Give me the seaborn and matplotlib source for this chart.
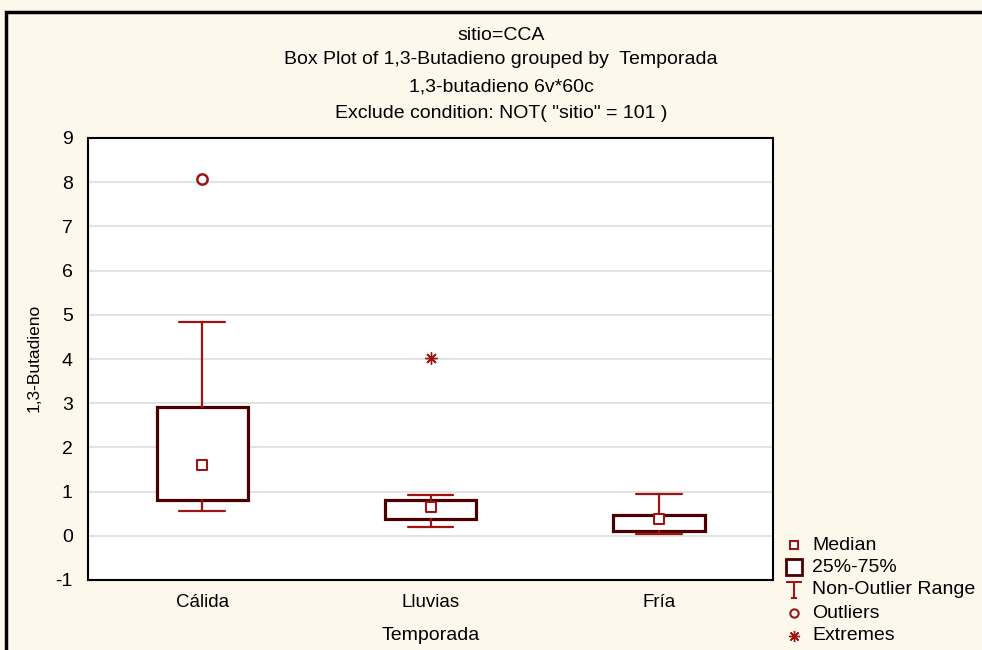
import matplotlib
matplotlib.use("Agg")
import matplotlib.pyplot as plt
import seaborn as sns
from matplotlib.lines import Line2D
from matplotlib.path import Path
from matplotlib.patches import Rectangle

# ---- data ----
categories = ["Cálida", "Lluvias", "Fría"]
medians = [1.61, 0.65, 0.39]
q1 = [0.81, 0.38, 0.11]
q3 = [2.92, 0.81, 0.48]
whisker_low = [0.57, 0.21, 0.03]
whisker_high = [4.84, 0.93, 0.95]
outlier_cat = ["Cálida"]
outlier_val = [8.07]
extreme_cat = ["Lluvias"]
extreme_val = [4.02]
yticks = [-1, 0, 1, 2, 3, 4, 5, 6, 7, 8, 9]
title_lines = ["sitio=CCA",
               "Box Plot of 1,3-Butadieno grouped by  Temporada",
               "1,3-butadieno 6v*60c",
               'Exclude condition: NOT( "sitio" = 101 )']
legend_labels = ["Median", "25%-75%", "Non-Outlier Range", "Outliers", "Extremes"]

BG = "#FDF8EC"
BOX = "#4A0000"
RED = "#9E1414"

sns.set_theme(style="white")
plt.rcParams['font.family'] = ['Liberation Sans', 'DejaVu Sans']
plt.rcParams['axes.unicode_minus'] = False
plt.rcParams['text.color'] = 'black'

fig = plt.figure(figsize=(9.82, 6.5), dpi=100, facecolor=BG)
ax = fig.add_axes([88 / 982, 70 / 650, 685 / 982, 442 / 650])
ax.set_facecolor("white")

stats = []
for i, c in enumerate(categories):
    stats.append(dict(label=c, med=medians[i], q1=q1[i], q3=q3[i],
                      whislo=whisker_low[i], whishi=whisker_high[i], fliers=[]))

ax.bxp(stats, positions=range(len(categories)), widths=0.4, capwidths=0.2,
       patch_artist=True, showfliers=False,
       boxprops=dict(facecolor="white", edgecolor=BOX, linewidth=2.3),
       whiskerprops=dict(color=RED, linewidth=1.6),
       capprops=dict(color=RED, linewidth=1.6),
       medianprops=dict(linewidth=0), zorder=3)

sns.scatterplot(x=categories, y=medians, marker="s", s=45, facecolor="white",
                edgecolor=RED, linewidth=1.5, ax=ax, zorder=4, legend=False)
sns.scatterplot(x=outlier_cat, y=outlier_val, marker="o", s=55, facecolor="white",
                edgecolor=RED, linewidth=1.8, ax=ax, zorder=4, legend=False)
sns.scatterplot(x=extreme_cat, y=extreme_val, marker=(8, 2, 0), s=70,
                color=RED, linewidth=1.0, ax=ax, zorder=4, legend=False)

ax.set_xlim(-0.5, 2.5)
ax.set_ylim(-1, 9)
ax.set_yticks(yticks)
ax.set_xticks(range(len(categories)))
ax.set_xticklabels(categories)
ax.yaxis.grid(True, color="#DEDEDE", linewidth=1.2)
ax.set_axisbelow(True)
ax.tick_params(axis="both", direction="in", length=4, width=1, color="black",
               labelsize=13.5, labelcolor="black")
ax.tick_params(axis="y", pad=11, labelsize=14)
ax.tick_params(axis="x", pad=10)
ax.tick_params(top=False, right=False)
for s in ax.spines.values():
    s.set_color("black")
    s.set_linewidth(1.5)
ax.set_xlabel("")
ax.set_ylabel("")

# titles
for txt, yp in zip(title_lines, [36, 60, 87, 114]):
    fig.text(501 / 982, 1 - yp / 650, txt, ha="center", va="center",
             fontsize=14, color="black")

fig.text(34 / 982, 1 - 358 / 650, "1,3-Butadieno", rotation=90, ha="center",
         va="center", fontsize=12.5, color="black")
fig.text(431 / 982, 1 - 635 / 650, "Temporada", ha="center", va="center",
         fontsize=14, color="black")

# figure frame
fig.patches.append(Rectangle((6 / 982, -0.05), 1.1, 1 - 12 / 650 + 0.05,
                             transform=fig.transFigure, fill=False,
                             edgecolor="black", linewidth=2.5, zorder=0))

# legend (drawn entry by entry at figure positions)
range_marker = Path([(-0.45, 0.5), (0.45, 0.5), (0, 0.5), (0, -0.5),
                     (-0.2, -0.5), (0.2, -0.5)],
                    [Path.MOVETO, Path.LINETO, Path.MOVETO, Path.LINETO,
                     Path.MOVETO, Path.LINETO])
marker_styles = [
    dict(marker="s", markersize=6, markerfacecolor="white",
         markeredgecolor=RED, markeredgewidth=1.5),
    dict(marker="s", markersize=11, markerfacecolor="white",
         markeredgecolor=BOX, markeredgewidth=2),
    dict(marker=range_marker, markersize=12, markerfacecolor="none",
         markeredgecolor=RED, markeredgewidth=1.5),
    dict(marker="o", markersize=6, markerfacecolor="white",
         markeredgecolor=RED, markeredgewidth=1.5),
    dict(marker=(8, 2, 0), markersize=8, color=RED, markeredgewidth=1.0),
]
leg_y = [545, 567, 590, 613, 636]
for lab, yp, st in zip(legend_labels, leg_y, marker_styles):
    fig.add_artist(Line2D([794 / 982], [1 - yp / 650], linestyle="none",
                          transform=fig.transFigure, **st))
    fig.text(812 / 982, 1 - yp / 650, lab, ha="left", va="center",
             fontsize=14, color="black")

fig.savefig("out.png", dpi=100, facecolor=BG)
